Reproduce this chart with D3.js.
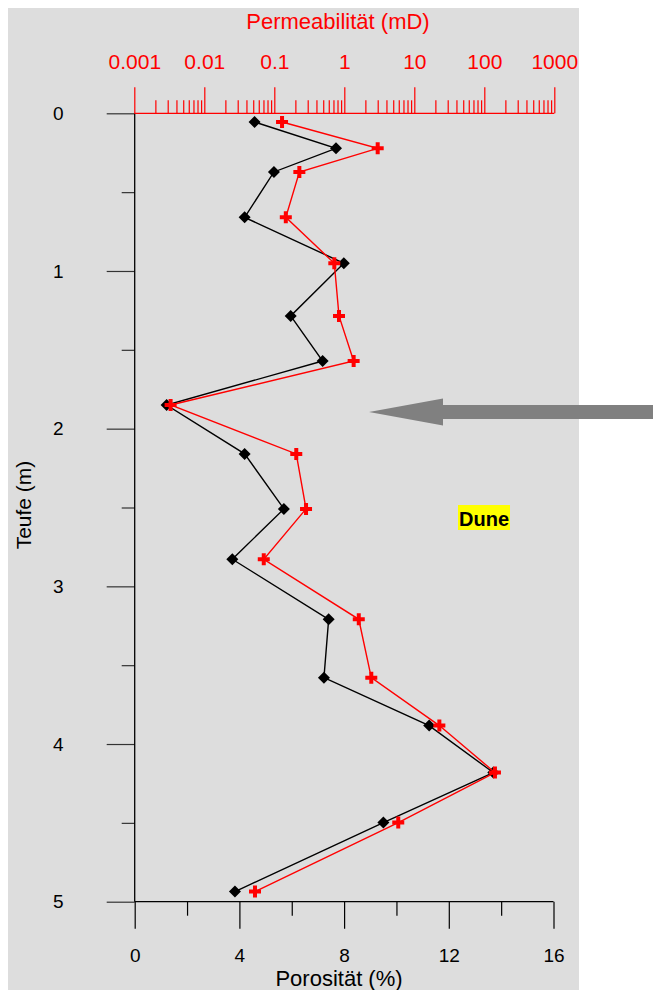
<!DOCTYPE html>
<html><head><meta charset="utf-8">
<script src="https://cdn.jsdelivr.net/npm/d3@7"></script>
<style>
body{margin:0;background:#fff;}
svg{display:block;font-family:"Liberation Sans",Arial,sans-serif;}
</style></head>
<body><svg id="chart" width="653" height="990"></svg>
<script>
// ---- data ----
const depth = [0.055,0.222,0.372,0.66,0.951,1.285,1.571,1.85,2.16,2.509,2.828,3.209,3.579,3.883,4.181,4.498,4.936];
const porosity = [4.58,7.69,5.32,4.20,7.99,5.96,7.18,1.22,4.20,5.70,3.73,7.41,7.23,11.25,13.70,9.50,3.83];
const permeability = [0.129,3.0,0.228,0.146,0.72,0.84,1.36,0.0033,0.206,0.284,0.0707,1.61,2.43,22.8,142,5.9,0.053];
const depthTicks = [0,1,2,3,4,5];
const depthMinor = [0.5,1.5,2.5,3.5,4.5];
const porTicks = [0,4,8,12,16];
const porMinor = [2,6,10,14];
const permTicks = [0.001,0.01,0.1,1,10,100,1000];
const permLabels = ["0.001","0.01","0.1","1","10","100","1000"];
const annotation = "Dune";

const svg = d3.select("#chart");
const font = '"Liberation Sans",Arial,sans-serif';

// background
svg.append("rect").attr("x",8).attr("y",8).attr("width",571).attr("height",982).attr("fill","#dddddd");

const y = d3.scaleLinear().domain([0,5]).range([113.3,901.7]);
const x = d3.scaleLinear().domain([0,16]).range([134.7,553.5]);
const xl = d3.scaleLog().domain([0.001,1000]).range([134.3,554.3]);

// minor log ticks
const permMinor = [];
for (let e=-3;e<3;e++) for (let m=2;m<=9;m++) permMinor.push(m*Math.pow(10,e));

function styleAxis(g,color,fs){
  g.select(".domain").remove();
  g.selectAll(".tick line").attr("stroke",color).attr("stroke-width",1.2);
  g.selectAll("text").attr("fill",color).attr("font-size",fs).attr("font-family",font);
}

// top (permeability) axis
const gtMinor = svg.append("g").attr("transform","translate(0,113.3)")
  .call(d3.axisTop(xl).tickValues(permMinor).tickSize(13).tickFormat(""));
styleAxis(gtMinor,"#ff0000",21);
const gt = svg.append("g").attr("transform","translate(0,113.3)")
  .call(d3.axisTop(xl).tickValues(permTicks).tickSize(26).tickPadding(18).tickFormat((d,i)=>permLabels[i]));
styleAxis(gt,"#ff0000",21);

// left (depth) axis
const glMinor = svg.append("g").attr("transform","translate(134.7,0)")
  .call(d3.axisLeft(y).tickValues(depthMinor).tickSize(13).tickFormat(""));
styleAxis(glMinor,"#333",19);
const gl = svg.append("g").attr("transform","translate(134.7,0)")
  .call(d3.axisLeft(y).tickValues(depthTicks).tickSize(28).tickPadding(43).tickFormat(d3.format("d")));
styleAxis(gl,"#333",19);
gl.selectAll("text").attr("fill","#000");

// bottom (porosity) axis
const gbMinor = svg.append("g").attr("transform","translate(0,901.7)")
  .call(d3.axisBottom(x).tickValues(porMinor).tickSize(14).tickFormat(""));
styleAxis(gbMinor,"#000",19);
const gb = svg.append("g").attr("transform","translate(0,901.7)")
  .call(d3.axisBottom(x).tickValues(porTicks).tickSize(27).tickPadding(20).tickFormat(d3.format("d")));
styleAxis(gb,"#000",19);

// axis lines
svg.append("line").attr("x1",x(0)).attr("x2",x(0)).attr("y1",y(0)).attr("y2",y(5)).attr("stroke","#000").attr("stroke-width",1.3);
svg.append("line").attr("x1",x(0)).attr("x2",x(16)).attr("y1",y(5)).attr("y2",y(5)).attr("stroke","#000").attr("stroke-width",1.3);
svg.append("line").attr("x1",xl(0.001)).attr("x2",xl(1000)).attr("y1",y(0)).attr("y2",y(0)).attr("stroke","#ff0000").attr("stroke-width",1.3);

// axis titles
svg.append("text").attr("x",338).attr("y",29).attr("text-anchor","middle").attr("font-size",22).attr("fill","#ff0000").text("Permeabilität (mD)");
svg.append("text").attr("x",339).attr("y",986).attr("text-anchor","middle").attr("font-size",22).attr("fill","#000").text("Porosität (%)");
svg.append("text").attr("transform","translate(31,505) rotate(-90)").attr("text-anchor","middle").attr("font-size",21).attr("fill","#000").text("Teufe (m)");

// porosity series
const lineP = d3.line().x((d,i)=>x(porosity[i])).y((d,i)=>y(depth[i]));
svg.append("path").attr("d",lineP(depth)).attr("fill","none").attr("stroke","#000").attr("stroke-width",1.4);
svg.append("g").selectAll("path").data(depth).join("path")
  .attr("transform",(d,i)=>`translate(${x(porosity[i])},${y(d)})`)
  .attr("d","M0,-6L6,0L0,6L-6,0Z").attr("fill","#000");

// permeability series
const lineK = d3.line().x((d,i)=>xl(permeability[i])).y((d,i)=>y(depth[i]));
svg.append("path").attr("d",lineK(depth)).attr("fill","none").attr("stroke","#ff0000").attr("stroke-width",1.4);
svg.append("g").selectAll("path").data(depth).join("path")
  .attr("transform",(d,i)=>`translate(${xl(permeability[i])},${y(d)})`)
  .attr("d","M-2,-6H2V-2H6V2H2V6H-2V2H-6V-2H-2Z").attr("fill","#ff0000");

// arrow
svg.append("path").attr("d","M369,412L443,398.5L443,405L653,405L653,419L443,419L443,425.5Z").attr("fill","#808080");

// Dune label
const lab = svg.append("g");
const t = lab.append("text").attr("x",484).attr("y",526).attr("text-anchor","middle").attr("font-size",20).attr("font-weight","bold").attr("fill","#000").text(annotation);
const bb = t.node().getBBox();
lab.insert("rect","text").attr("x",bb.x-1).attr("y",505).attr("width",bb.width+2).attr("height",25).attr("fill","#ffff00");
</script></body></html>
